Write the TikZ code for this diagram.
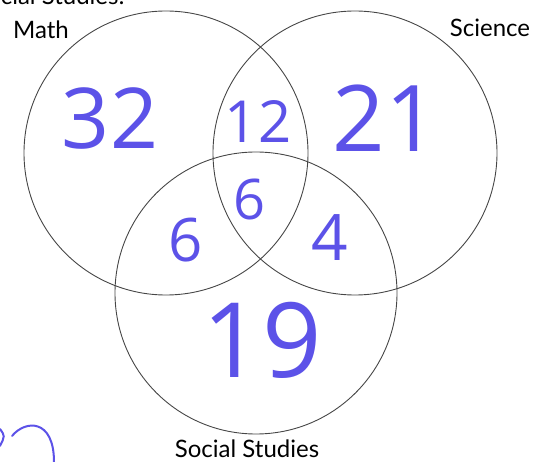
\documentclass[tikz,border=0pt]{standalone}
\usepackage{fontspec}
\setmainfont{Lato}
\newfontfamily\handfont{Open Sans}
\definecolor{handblue}{RGB}{92,82,232}
\definecolor{ringgray}{RGB}{70,70,70}

\begin{document}
\begin{tikzpicture}[x=1pt,y=-1pt,
  ring/.style={draw=ringgray,line width=.9pt,circle,minimum size=284pt,inner sep=0pt},
  setname/.style={font=\fontsize{24}{24}\selectfont,text=black},
  tally/.style={text=handblue,font=\handfont\fontsize{#1}{#1}\selectfont,inner sep=0pt},
  stroke/.style={draw=handblue,line width=2pt,line cap=round}]
\useasboundingbox (0,0) rectangle (544,462);
\clip (0,0) rectangle (544,462);
\node[setname,anchor=base east] (heading) at (128,5) {Social Studies:};
% the three sets
\node[ring] (math) at (166,153) {};
\node[ring] (science) at (355,153) {};
\node[ring,minimum size=282pt] (social) at (256,293) {};
\node[setname] (mathname) at (41,30) {Math};
\node[setname] (sciname) at (490,28) {Science};
\node[setname] (socname) at (247,449) {Social Studies};
% counts written in
\node[tally=84] (onlymath) at (110,118) {32};
\node[tally=58] (mathsci) at (258,122) {12};
\node[tally=92] (onlysci) at (385,118) {21};
\node[tally=56] (all) at (250,200) {6};
\node[tally=60] (mathsoc) at (186,240) {6};
\node[tally=64] (scisoc) at (330,238) {4};
\node[tally=104] (onlysoc) at (262,340) {19};
% stray marks at the bottom
\coordinate (markA) at (12,436);
\coordinate (markB) at (54,462);
\draw[stroke] (markA) .. controls (25,420) and (54,418) .. (markB);
\draw[stroke] (0,429) .. controls (5,436) .. (0,446);
\end{tikzpicture}
\end{document}
